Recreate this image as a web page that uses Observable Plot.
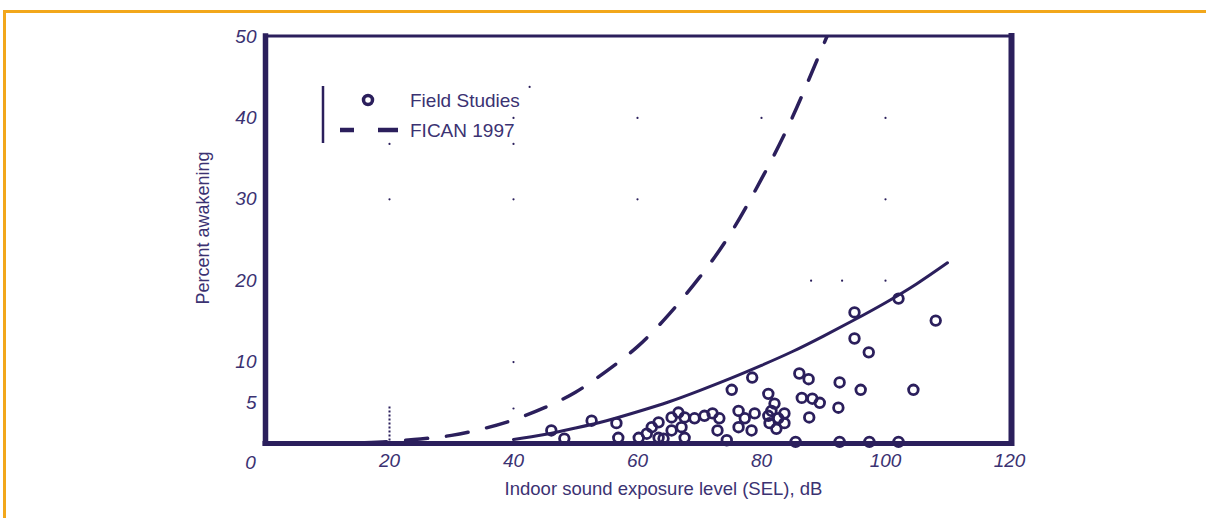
<!DOCTYPE html>
<html><head><meta charset="utf-8">
<script src="https://cdn.jsdelivr.net/npm/d3@7"></script>
<script src="https://cdn.jsdelivr.net/npm/@observablehq/plot@0.6"></script>
<style>
html,body{margin:0;padding:0;background:#fff;}
#wrap{position:relative;width:1206px;height:518px;overflow:hidden;}
#border{position:absolute;left:3px;top:10px;right:-10px;bottom:-10px;border-top:3px solid #F2A71B;border-left:3px solid #F2A71B;}
#chart{position:absolute;left:0;top:0;}
#legend{position:absolute;left:0;top:0;}
</style></head><body>
<div id="wrap"><div id="border"></div><div id="chart"></div><svg id="legend" width="600" height="160"></svg></div>
<script>
// Field study observations: indoor SEL (dB) and percent awakening
const fieldSEL = [46.1,48.2,52.6,56.6,56.9,60.2,61.5,62.3,63.4,63.4,64.2,65.5,65.5,66.6,67.1,67.6,67.6,69.2,70.8,72.1,73.2,72.9,74.4,75.2,76.3,77.3,76.3,78.4,78.9,78.5,81.6,82.7,81.3,82.4,81.1,81.1,82.1,83.7,83.7,85.5,86.1,87.6,86.5,88.2,89.4,87.7,92.4,92.6,92.6,95.0,95.0,96.0,97.3,97.4,102.1,102.1,104.5,108.1];
const fieldPct = [1.6,0.6,2.8,2.5,0.7,0.7,1.2,2.0,2.6,0.7,0.6,3.2,1.6,3.8,2.0,3.2,0.7,3.1,3.4,3.7,3.1,1.6,0.4,6.6,4.0,3.1,2.0,1.6,3.7,8.1,4.0,3.1,2.5,1.8,3.4,6.1,4.9,3.7,2.5,0.2,8.6,7.9,5.6,5.5,5.0,3.2,4.4,7.5,0.2,16.1,12.9,6.6,11.2,0.2,17.8,0.2,6.6,15.1];

// Solid curve
const solidSEL = [40,45,50,55,60,65,70,75,80,85,90,95,100,105,110];
const solidPct = [0.5,1.1,1.9,2.8,3.9,5.1,6.5,8.0,9.6,11.3,13.2,15.2,17.3,19.6,22.2];

// Dashed curve
const dashSEL = [16,20,25,30,35,40,45,50,55,60,65,70,75,80,85,90,91.5];
const dashPct = [0.1,0.25,0.55,1.0,1.8,2.9,4.4,6.3,8.9,11.9,15.8,20.4,25.8,32.5,40.1,49,51.5];

// Faint grid dots visible in the scan
const dotSEL = [40,60,80,100,20,40,60,100,20,40,40,88,93,100,42.6,40];
const dotPct = [40,40,40,40,30,30,30,30,36.8,36.8,10,20,20,20,43.8,4.3];

const xTicks = [20,40,60,80,100,120];
const yTicks = [5,10,20,30,40,50];
const legendLabels = ["Field Studies","FICAN 1997"];
const xLabel = "Indoor sound exposure level (SEL), dB";
const yLabel = "Percent awakening";

const ink = "#2b1f5c";
const textInk = "#3b3272";
const font = "Liberation Sans, Arial, sans-serif";

const field = fieldSEL.map((x,i)=>({x, y: fieldPct[i]}));
const solid = solidSEL.map((x,i)=>({x, y: solidPct[i]}));
const dash = dashSEL.map((x,i)=>({x, y: dashPct[i]}));
const dots = dotSEL.map((x,i)=>({x, y: dotPct[i]}));

const chart = Plot.plot({
  width: 1206, height: 518,
  marginLeft: 265, marginRight: 197, marginTop: 36, marginBottom: 75,
  style: {fontFamily: font, color: textInk, background: "transparent"},
  x: {domain: [0,120]},
  y: {domain: [0,50]},
  marks: [
    Plot.dot(dots, {x:"x", y:"y", r: 1.1, fill: ink, stroke: "none"}),
    Plot.ruleX([20], {y1: 0.3, y2: 4.7, stroke: ink, strokeWidth: 2, strokeDasharray: "2,2"}),
    Plot.line(solid, {x:"x", y:"y", stroke: ink, strokeWidth: 3, curve: "natural"}),
    Plot.line(dash, {x:"x", y:"y", stroke: ink, strokeWidth: 3.5, strokeDasharray: "22,19", curve: "natural", clip: true}),
    Plot.dot(field, {x:"x", y:"y", r: 4.8, stroke: ink, strokeWidth: 2.8, fill: "none"}),
    Plot.ruleY([0], {stroke: ink, strokeWidth: 5, strokeLinecap: "square"}),
    Plot.ruleY([50], {stroke: ink, strokeWidth: 3, dy: -0.5}),
    Plot.ruleX([0], {stroke: ink, strokeWidth: 5.5, strokeLinecap: "square"}),
    Plot.ruleX([120], {stroke: ink, strokeWidth: 6, dx: 2, strokeLinecap: "square"}),
    Plot.axisX({ticks: xTicks, tickSize: 0, tickPadding: 10, fontSize: 19, fontStyle: "italic", label: null, fill: textInk}),
    Plot.axisY({ticks: yTicks, tickSize: 0, tickPadding: 9, fontSize: 19, fontStyle: "italic", label: null, fill: textInk}),
    Plot.text(["0"], {frameAnchor: "bottom-left", textAnchor: "middle", dx: -15, dy: 25, fontSize: 19, fontStyle: "italic", fill: textInk}),
    Plot.text([xLabel], {frameAnchor: "bottom", textAnchor: "middle", dx: 26, dy: 51, fontSize: 18.5, fill: textInk}),
    Plot.text([yLabel], {frameAnchor: "left", textAnchor: "middle", rotate: -90, dx: -62, dy: -12, fontSize: 18, fill: textInk})
  ]
});
document.getElementById("chart").appendChild(chart);

// Legend
const lg = d3.select("#legend");
lg.append("line").attr("x1",323).attr("x2",323).attr("y1",86).attr("y2",143).attr("stroke",ink).attr("stroke-width",2.5);
lg.append("circle").attr("cx",368).attr("cy",100).attr("r",4.5).attr("fill","none").attr("stroke",ink).attr("stroke-width",3.5);
lg.append("line").attr("x1",340).attr("x2",354).attr("y1",130).attr("y2",130).attr("stroke",ink).attr("stroke-width",4.5);
lg.append("line").attr("x1",378).attr("x2",398).attr("y1",130).attr("y2",130).attr("stroke",ink).attr("stroke-width",4.5);
legendLabels.forEach((t,i)=>{
  lg.append("text").attr("x",410).attr("y",107 + i*30).attr("font-family",font).attr("font-size",19).attr("fill",textInk).text(t);
});
</script>
</body></html>
